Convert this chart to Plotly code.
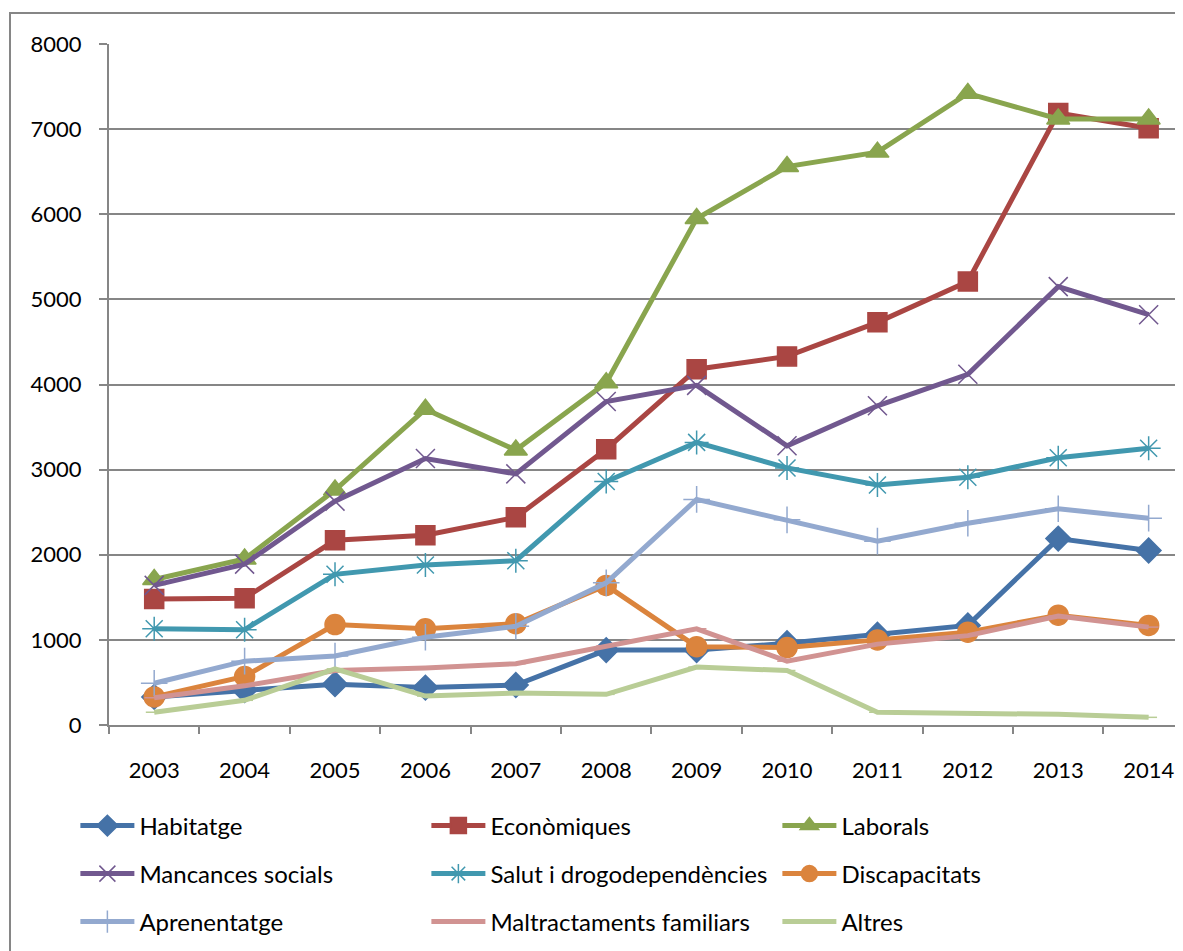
import plotly.graph_objects as go

years = ["2003", "2004", "2005", "2006", "2007", "2008", "2009", "2010", "2011", "2012", "2013", "2014"]

habitatge = [330, 410, 480, 440, 470, 880, 880, 960, 1060, 1170, 2190, 2050]
economiques = [1480, 1490, 2170, 2230, 2440, 3240, 4180, 4330, 4730, 5210, 7190, 7010]
laborals = [1710, 1950, 2760, 3710, 3230, 4020, 5950, 6560, 6730, 7420, 7120, 7120]
mancances = [1640, 1890, 2630, 3130, 2950, 3800, 3990, 3280, 3750, 4120, 5150, 4820]
salut = [1130, 1120, 1770, 1880, 1930, 2860, 3320, 3020, 2820, 2910, 3140, 3250]
discapacitats = [330, 570, 1180, 1130, 1190, 1640, 920, 910, 1000, 1090, 1290, 1170]
aprenentatge = [490, 750, 810, 1030, 1160, 1670, 2650, 2410, 2160, 2370, 2540, 2430]
maltractaments = [320, 460, 640, 670, 720, 930, 1130, 750, 950, 1050, 1280, 1150]
altres = [150, 290, 660, 340, 375, 360, 680, 640, 150, 140, 125, 90]

series = [
    ("Habitatge", habitatge, "#4572A7", "diamond", 19, "legend"),
    ("Econòmiques", economiques, "#AA4643", "square", 19, "legend"),
    ("Laborals", laborals, "#89A54E", "triangle-up", 20, "legend"),
    ("Mancances socials", mancances, "#71588F", "x-thin", 19, "legend2"),
    ("Salut i drogodependències", salut, "#4198AF", "asterisk", 20, "legend2"),
    ("Discapacitats", discapacitats, "#DB843D", "circle", 20, "legend2"),
    ("Aprenentatge", aprenentatge, "#93A9CF", "cross-thin", 19, "legend3"),
    ("Maltractaments familiars", maltractaments, "#D19392", "line-ew", 14, "legend3"),
    ("Altres", altres, "#B9CD96", "line-ew", 12, "legend3"),
]

fig = go.Figure()
for name, vals, color, sym, size, leg in series:
    fig.add_trace(go.Scatter(
        x=years, y=vals, name=name, mode="lines+markers",
        line=dict(color=color, width=5),
        marker=dict(symbol=sym, size=size, color=color, line=dict(color=color, width=1.5)),
        legend=leg,
    ))

fam = "Lato, 'Open Sans', sans-serif"
tfont = dict(family=fam, size=22, color="#000000")
lfont = dict(family=fam, size=24, color="#000000")

leg_common = dict(orientation="h", entrywidth=282, entrywidthmode="pixels", itemwidth=54,
                  x=-0.0313, xanchor="left", yanchor="middle", font=lfont,
                  bgcolor="rgba(0,0,0,0)", tracegroupgap=0)

# figure is offset by the page's 8px body margin, so it is sized 8px smaller
fig.update_layout(
    width=1175, height=943,
    margin=dict(l=101, r=0, t=36, b=226),
    paper_bgcolor="white", plot_bgcolor="white",
    font=tfont,
    showlegend=True,
    legend=dict(**leg_common, y=(725 - 826) / 681),
    legend2=dict(**leg_common, y=(725 - 874) / 681),
    legend3=dict(**leg_common, y=(725 - 922) / 681),
    xaxis=dict(
        type="category", range=[-0.5, 11.38],
        showgrid=False, showline=True, linecolor="#868686", linewidth=2,
        ticks="outside", tickson="boundaries", ticklen=7, tickcolor="#868686", tickwidth=2,
        ticklabelstandoff=25, tickfont=tfont, zeroline=False,
    ),
    yaxis=dict(
        range=[0, 8000], dtick=1000, showgrid=True, gridcolor="#868686", gridwidth=2,
        showline=True, linecolor="#868686", linewidth=2,
        ticks="outside", ticklen=8, tickcolor="#868686", tickwidth=2,
        ticklabelstandoff=13, tickfont=tfont, zeroline=False,
    ),
    shapes=[dict(type="rect", xref="paper", yref="paper",
                 x0=(10 - 109) / 1074, x1=1.05, y0=-0.4, y1=1 + (44 - 13) / 681,
                 line=dict(color="#868686", width=2), fillcolor="rgba(0,0,0,0)", layer="below")],
)

fig.write_html("out.html")
